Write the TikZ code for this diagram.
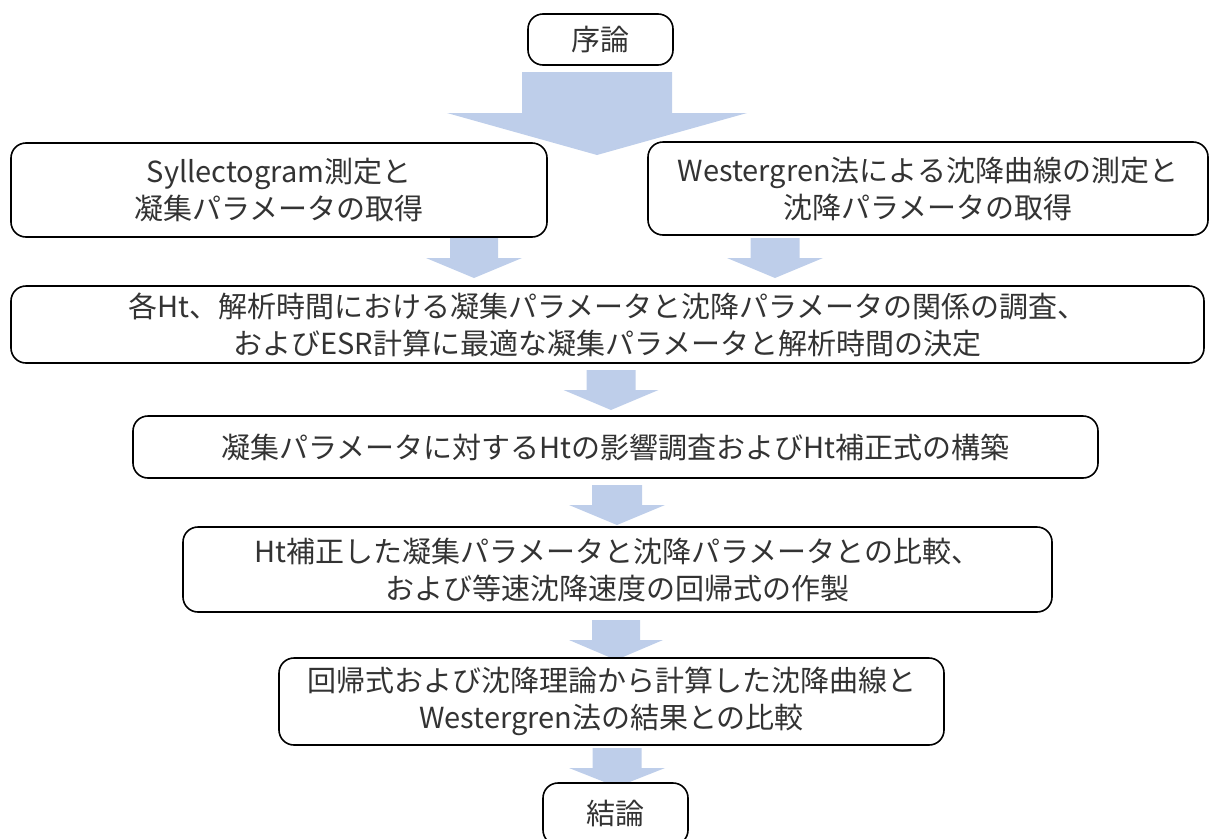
\documentclass[tikz,border=0pt]{standalone}
\usepackage{fontspec}
\setmainfont{Noto Sans CJK JP}
\usetikzlibrary{calc}
\definecolor{arrowblue}{RGB}{190,206,234}
\tikzset{
  box/.style={draw=black, line width=1.6pt, rounded corners=15pt, fill=white,
    align=center, inner sep=0pt, font=\fontsize{29}{37}\selectfont, text=black!80},
  blockarrow/.style={fill=arrowblue, draw=none}
}
% #1 cx, #2 shaft half, #3 head half, #4 top, #5 head y, #6 tip
\newcommand{\myblockarrow}[6]{%
  \fill[blockarrow] (#1-#2,#4) -- (#1+#2,#4) -- (#1+#2,#5) -- (#1+#3,#5) -- (#1,#6)
     -- (#1-#3,#5) -- (#1-#2,#5) -- cycle;}
\begin{document}
\begin{tikzpicture}[x=1pt,y=-1pt]
\useasboundingbox (0,0) rectangle (1209,838);
% arrows (behind boxes)
\myblockarrow{597}{75}{150}{72}{113}{155}
\myblockarrow{474}{24}{48}{238}{258}{278}
\myblockarrow{775}{24.5}{48}{238}{258}{278}
\myblockarrow{611}{24.5}{47.5}{370}{390}{410}
\myblockarrow{617}{25}{48}{485}{505}{525}
\myblockarrow{616}{24}{47}{620}{640}{660}
\myblockarrow{617}{24.5}{48}{748}{768}{787}
% boxes
\node[box, minimum width=145pt, minimum height=51pt] (intro) at (600.5,39.5) {序論};
\node[box, minimum width=536pt, minimum height=94pt] (syl) at (279,190)
  {Syllectogram測定と\\凝集パラメータの取得};
\node[box, minimum width=560pt, minimum height=93pt] (wes) at (928,188.5)
  {Westergren法による沈降曲線の測定と\\沈降パラメータの取得};
\node[box, minimum width=1193pt, minimum height=77pt] (rel) at (607.5,324.5)
  {各Ht、解析時間における凝集パラメータと沈降パラメータの関係の調査、\\およびESR計算に最適な凝集パラメータと解析時間の決定};
\node[box, minimum width=965pt, minimum height=62pt] (htc) at (615.5,447)
  {凝集パラメータに対するHtの影響調査およびHt補正式の構築};
\node[box, minimum width=869pt, minimum height=85pt] (cmp) at (617.5,569.5)
  {Ht補正した凝集パラメータと沈降パラメータとの比較、\\および等速沈降速度の回帰式の作製};
\node[box, minimum width=665pt, minimum height=87pt] (reg) at (611.5,701.5)
  {回帰式および沈降理論から計算した沈降曲線と\\Westergren法の結果との比較};
\node[box, minimum width=145pt, minimum height=62pt] (concl) at (615.5,814)
  {\raisebox{3pt}{結論}};
\end{tikzpicture}
\end{document}
